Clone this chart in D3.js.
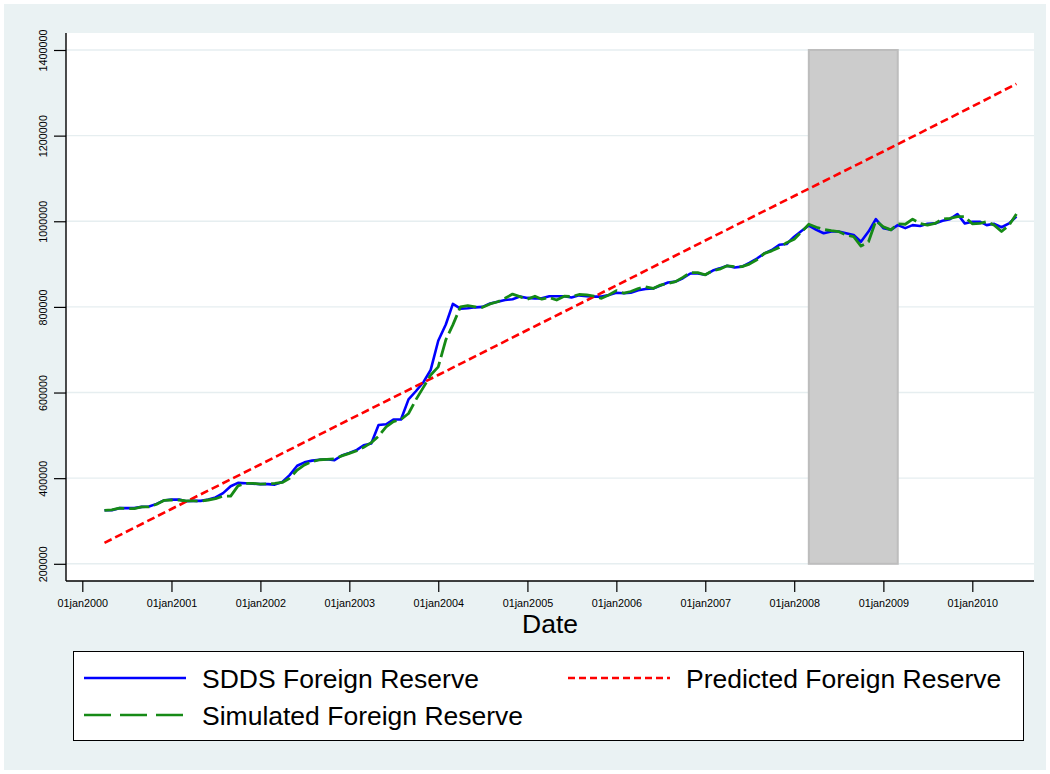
<!DOCTYPE html>
<html>
<head>
<meta charset="utf-8">
<script src="https://cdn.jsdelivr.net/npm/d3@7"></script>
<style>
    body { margin: 0; background: #ffffff; }
    svg { display: block; font-family: "Liberation Sans", Arial, sans-serif; }
    .axis text { font-size: 10.8px; fill: #000; }
    .axis line { stroke: #000; stroke-width: 1.2; }
    .legend-text { font-size: 26.5px; fill: #000; }
</style>
</head>
<body>
<svg id="chart" width="1050" height="774"></svg>
<script>
// monthly series start in April 2000 (values in thousands)
const startMonth = new Date(Date.UTC(2000, 3, 1));

const sddsReserve = [
    325, 325, 330, 330, 330, 333, 334, 340, 348,                // 2000 (Apr-Dec)
    350, 350, 346, 347, 347, 350, 355, 365, 381, 389, 388, 387, // 2001
    386, 386, 385, 391, 407, 429, 437, 441, 443, 444, 442, 453, // 2002
    459, 466, 477, 481, 524, 526, 537, 537, 584, 603, 624, 653, // 2003
    721, 759, 807, 796, 797, 799, 800, 808, 812, 816, 818, 824, // 2004
    821, 820, 820, 825, 825, 825, 822, 827, 825, 824, 824, 828, // 2005
    833, 832, 833, 839, 842, 843, 850, 857, 859, 867, 878, 878, // 2006
    875, 885, 890, 896, 892, 894, 903, 913, 925, 933, 945, 947, // 2007
    964, 978, 990, 980, 972, 976, 976, 972, 968, 952, 976, 1005, // 2008
    984, 980, 991, 984, 991, 989, 994, 995, 1001, 1005, 1017, 995, // 2009
    999, 999, 991, 994, 986, 995, 1011                           // 2010 (Jan-Jul)
];

const simulatedReserve = [
    325, 326, 330, 329, 329, 333, 333, 339, 348,
    349, 349, 347, 347, 346, 349, 352, 358, 358, 382, 388, 388,
    386, 387, 388, 390, 400, 419, 431, 439, 443, 444, 445, 452,
    458, 464, 472, 483, 498, 520, 532, 537, 551, 583, 612, 641,
    660, 723, 758, 800, 803, 800, 799, 807, 812, 820, 830, 824,
    818, 825, 818, 822, 816, 825, 824, 829, 828, 825, 820, 828,
    838, 832, 836, 843, 847, 843, 851, 855, 859, 869, 880, 880,
    875, 885, 888, 896, 894, 894, 900, 910, 925, 931, 939, 950,
    958, 976, 993, 986, 981, 978, 976, 968, 964, 942, 952, 1001,
    987, 980, 994, 993, 1005, 995, 991, 995, 1005, 1007, 1011, 1011,
    994, 995, 999, 991, 976, 991, 1017
];

// predicted (trend) line, read at a few dates
const predictedDates = ['2000-04-01', '2001-01-01', '2002-01-01', '2003-01-01', '2004-01-01', '2005-01-01',
    '2006-01-01', '2007-01-01', '2008-01-01', '2009-01-01', '2010-01-01', '2010-07-01'];
const predictedValues = [249, 328, 432, 537, 641, 746, 850, 955, 1059, 1163, 1268, 1321];

// shaded crisis period
const bandStart = '2008-03-01';
const bandEnd = '2009-03-01';
const bandRange = [200, 1400];

const xTickYears = [2000, 2001, 2002, 2003, 2004, 2005, 2006, 2007, 2008, 2009, 2010];
const yTicks = [200, 400, 600, 800, 1000, 1200, 1400];

const seriesNames = ['SDDS Foreign Reserve', 'Predicted Foreign Reserve', 'Simulated Foreign Reserve'];
const seriesColors = ['#0000ff', '#ff0000', '#168a16'];

class ReserveChart {

    constructor(_config, _data) {
        this.config = {
            parentElement: _config.parentElement,
            containerWidth: _config.containerWidth || 1050,
            containerHeight: _config.containerHeight || 774,
            margin: { top: 33, bottom: 193, right: 16, left: 66 }
        }
        this.data = _data;
        this.initVis();
    }

    initVis() {
        let vis = this;

        vis.width = vis.config.containerWidth - vis.config.margin.left - vis.config.margin.right;
        vis.height = vis.config.containerHeight - vis.config.margin.top - vis.config.margin.bottom;

        vis.svg = d3.select(vis.config.parentElement)
            .attr('width', vis.config.containerWidth)
            .attr('height', vis.config.containerHeight);

        // graph region background
        vis.svg.append('rect')
            .attr('x', 4)
            .attr('y', 4)
            .attr('width', vis.config.containerWidth - 8)
            .attr('height', vis.config.containerHeight - 8)
            .attr('fill', '#eaf2f3');

        vis.chart = vis.svg.append('g')
            .attr('transform', `translate(${vis.config.margin.left}, ${vis.config.margin.top})`);

        // plot region
        vis.chart.append('rect')
            .attr('width', vis.width)
            .attr('height', vis.height)
            .attr('fill', '#ffffff');

        vis.xScale = d3.scaleUtc()
            .domain([new Date(Date.UTC(2000, 0, 1)), new Date(Date.UTC(2010, 0, 1))])
            .range([16.3, 906.3]);

        vis.yScale = d3.scaleLinear()
            .domain([200, 1400])
            .range([530.8, 17]);

        vis.xAxis = d3.axisBottom(vis.xScale)
            .tickValues(xTickYears.map(y => new Date(Date.UTC(y, 0, 1))))
            .tickFormat(d => '01jan' + d.getUTCFullYear())
            .tickSize(11)
            .tickSizeOuter(0)
            .tickPadding(7);

        vis.yAxis = d3.axisLeft(vis.yScale)
            .tickValues(yTicks)
            .tickFormat(d => d + '000')
            .tickSize(12)
            .tickSizeOuter(0);

        vis.gridGroup = vis.chart.append('g').attr('class', 'grid');
        vis.bandGroup = vis.chart.append('g').attr('class', 'band');
        vis.lineGroup = vis.chart.append('g').attr('class', 'lines');

        vis.xAxisGroup = vis.chart.append('g')
            .attr('class', 'axis x-axis')
            .attr('transform', `translate(0,${vis.height})`);

        vis.yAxisGroup = vis.chart.append('g')
            .attr('class', 'axis y-axis');

        // X axis title
        vis.svg.append('text')
            .attr('x', vis.config.margin.left + vis.width / 2)
            .attr('y', 633)
            .attr('text-anchor', 'middle')
            .style('font-size', '26.5px')
            .text('Date');

        vis.line = d3.line()
            .x(d => vis.xScale(d.date))
            .y(d => vis.yScale(d.value));

        vis.updateVis();
    }

    updateVis() {
        let vis = this;
        vis.sdds = vis.data.sdds.map((v, i) => ({ date: d3.utcMonth.offset(startMonth, i), value: v }));
        vis.simulated = vis.data.simulated.map((v, i) => ({ date: d3.utcMonth.offset(startMonth, i), value: v }));
        vis.predicted = vis.data.predDates.map((d, i) => ({ date: new Date(d), value: vis.data.predValues[i] }));
        vis.renderVis();
    }

    renderVis() {
        let vis = this;

        vis.gridGroup.selectAll('.grid-line')
            .data(yTicks)
            .join('line')
                .attr('class', 'grid-line')
                .attr('x1', 0)
                .attr('x2', vis.width)
                .attr('y1', d => vis.yScale(d))
                .attr('y2', d => vis.yScale(d))
                .attr('stroke', '#e6eef0')
                .attr('stroke-width', 1.4);

        vis.bandGroup.append('rect')
            .attr('x', vis.xScale(new Date(bandStart)))
            .attr('width', vis.xScale(new Date(bandEnd)) - vis.xScale(new Date(bandStart)))
            .attr('y', vis.yScale(bandRange[1]))
            .attr('height', vis.yScale(bandRange[0]) - vis.yScale(bandRange[1]))
            .attr('fill', '#cccccc')
            .attr('stroke', '#bdbdbd')
            .attr('stroke-width', 2);

        vis.lineGroup.append('path')
            .datum(vis.sdds)
            .attr('fill', 'none')
            .attr('stroke', seriesColors[0])
            .attr('stroke-width', 2.6)
            .attr('stroke-linejoin', 'round')
            .attr('d', vis.line);

        vis.lineGroup.append('path')
            .datum(vis.predicted)
            .attr('fill', 'none')
            .attr('stroke', seriesColors[1])
            .attr('stroke-width', 2.6)
            .attr('stroke-dasharray', '8,4')
            .attr('d', vis.line);

        vis.lineGroup.append('path')
            .datum(vis.simulated)
            .attr('fill', 'none')
            .attr('stroke', seriesColors[2])
            .attr('stroke-width', 2.8)
            .attr('stroke-dasharray', '20,5')
            .attr('stroke-linejoin', 'round')
            .attr('d', vis.line);

        vis.xAxisGroup.call(vis.xAxis);
        vis.yAxisGroup.call(vis.yAxis);
        vis.xAxisGroup.select('.domain').remove();
        vis.yAxisGroup.select('.domain').remove();

        vis.yAxisGroup.selectAll('text')
            .attr('x', 0)
            .attr('dy', 0)
            .attr('text-anchor', 'middle')
            .attr('transform', 'translate(-19.5,0) rotate(-90)');

        // axis lines over full plot region
        vis.chart.append('line')
            .attr('x1', 0).attr('x2', 0)
            .attr('y1', 0).attr('y2', vis.height)
            .attr('stroke', '#000').attr('stroke-width', 1.4);
        vis.chart.append('line')
            .attr('x1', 0).attr('x2', vis.width)
            .attr('y1', vis.height).attr('y2', vis.height)
            .attr('stroke', '#000').attr('stroke-width', 1.4);

        vis.renderLegend();
    }

    renderLegend() {
        let vis = this;
        let legend = vis.svg.append('g').attr('class', 'legend');

        legend.append('rect')
            .attr('x', 73.5)
            .attr('y', 651.5)
            .attr('width', 950)
            .attr('height', 89)
            .attr('fill', '#ffffff')
            .attr('stroke', '#000')
            .attr('stroke-width', 1);

        const items = [
            { name: seriesNames[0], color: seriesColors[0], dash: null, x: 84, y: 678 },
            { name: seriesNames[1], color: seriesColors[1], dash: '7,4', x: 568, y: 678 },
            { name: seriesNames[2], color: seriesColors[2], dash: '27,9', x: 84, y: 715 }
        ];

        items.forEach(d => {
            legend.append('line')
                .attr('x1', d.x).attr('x2', d.x + 102)
                .attr('y1', d.y).attr('y2', d.y)
                .attr('stroke', d.color)
                .attr('stroke-width', 2.6)
                .attr('stroke-dasharray', d.dash);
            legend.append('text')
                .attr('class', 'legend-text')
                .attr('x', d.x + 118)
                .attr('y', d.y + 9.5)
                .text(d.name);
        });
    }
}

const chart = new ReserveChart({ parentElement: '#chart' }, {
    sdds: sddsReserve,
    simulated: simulatedReserve,
    predDates: predictedDates,
    predValues: predictedValues
});
</script>
</body>
</html>
